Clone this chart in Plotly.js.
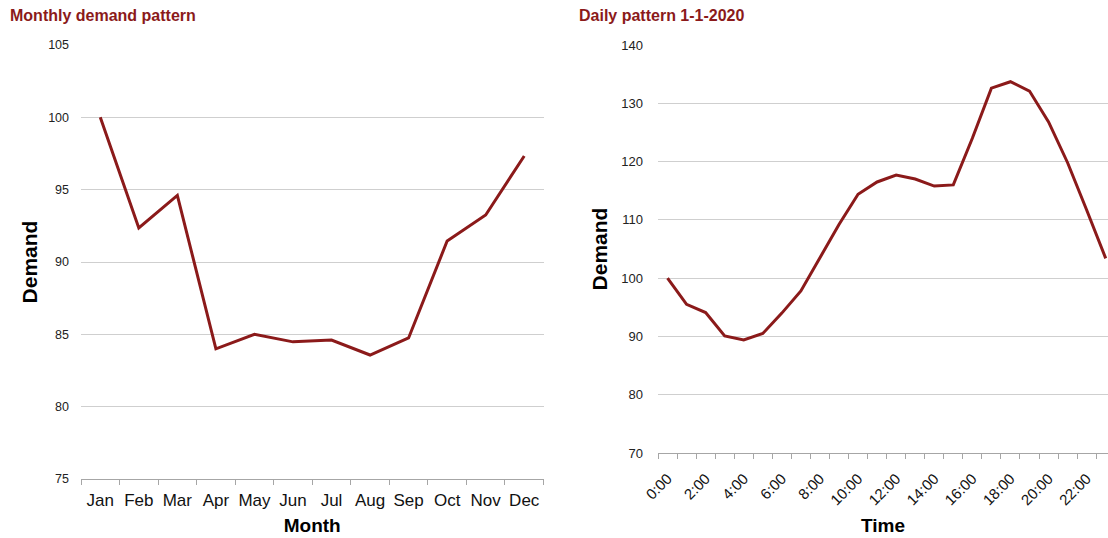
<!DOCTYPE html>
<html>
<head>
<meta charset="utf-8">
<script src="https://cdn.plot.ly/plotly-3.0.1.min.js"></script>
<style>html,body{margin:0;padding:0;overflow:hidden;background:#fff}</style>
</head>
<body>
<div id="chart" style="width:1108px;height:538px"></div>
<script>
// Monthly demand pattern
const months = ["Jan","Feb","Mar","Apr","May","Jun","Jul","Aug","Sep","Oct","Nov","Dec"];
const monthlyDemand = [100.0, 92.35, 94.6, 84.0, 85.0, 84.48, 84.6, 83.57, 84.75, 91.45, 93.25, 97.33];

// Daily pattern 1-1-2020
const hours = ["0:00","1:00","2:00","3:00","4:00","5:00","6:00","7:00","8:00","9:00","10:00","11:00",
               "12:00","13:00","14:00","15:00","16:00","17:00","18:00","19:00","20:00","21:00","22:00","23:00"];
const dailyDemand = [100.0, 95.5, 94.1, 90.1, 89.4, 90.5, 94.0, 97.8, 103.5, 109.2, 114.4, 116.5,
                     117.7, 117.0, 115.8, 116.0, 124.0, 132.6, 133.7, 132.1, 126.8, 119.8, 111.7, 103.4];
const hourTickText = hours.map((h, i) => (i % 2 === 0 ? h : ""));

const titleColor = "#8b1a1a";
const lineColor = "#8b1a1a";
const font = "Liberation Sans, Arial, sans-serif";
const W = 1108, H = 538;

const traces = [
  {x: months, y: monthlyDemand, xaxis: "x", yaxis: "y", type: "scatter", mode: "lines",
   line: {color: lineColor, width: 3}, hoverinfo: "x+y"},
  {x: hours, y: dailyDemand, xaxis: "x2", yaxis: "y2", type: "scatter", mode: "lines",
   line: {color: lineColor, width: 3}, hoverinfo: "x+y"}
];

const gridColor = "#cfcfcf";
const axisLineColor = "#a6a6a6";

const layout = {
  width: W, height: H,
  margin: {l: 0, r: 0, t: 0, b: 0},
  paper_bgcolor: "#fff", plot_bgcolor: "#fff",
  showlegend: false,
  font: {family: font, color: "#222"},
  xaxis: {
    domain: [81 / W, 543.5 / W],
    type: "category",
    range: [-0.5, 11.5],
    tickson: "boundaries",
    ticks: "outside", ticklen: 5, tickcolor: axisLineColor,
    tickangle: 0,
    ticklabelstandoff: 6,
    showline: true, linecolor: axisLineColor, linewidth: 1,
    showgrid: false,
    tickfont: {size: 17, color: "#111", family: font},
    title: {text: "<b>Month</b>", font: {size: 19, color: "#000", family: font}, standoff: 9},
    fixedrange: true
  },
  yaxis: {
    domain: [(H - 479) / H, (H - 45) / H],
    range: [75, 105], dtick: 5,
    showgrid: true, gridcolor: gridColor, gridwidth: 1,
    zeroline: false, showline: false, ticks: "",
    ticklabelstandoff: 11,
    tickfont: {size: 12.5, color: "#222", family: font},
    title: {text: "<b>Demand</b>", font: {size: 21, color: "#000", family: font}, standoff: 4},
    fixedrange: true
  },
  xaxis2: {
    domain: [658 / W, 1],
    type: "category",
    range: [-0.5, 23.12],
    tickmode: "array", tickvals: hours, ticktext: hourTickText,
    tickson: "boundaries",
    ticks: "outside", ticklen: 5, tickcolor: axisLineColor,
    tickangle: -45,
    ticklabelstandoff: 10,
    showline: true, linecolor: axisLineColor, linewidth: 1,
    showgrid: false,
    tickfont: {size: 15, color: "#111", family: font},
    title: {text: "<b>Time</b>", font: {size: 19, color: "#000", family: font}, standoff: 11},
    anchor: "y2",
    fixedrange: true
  },
  yaxis2: {
    domain: [(H - 453) / H, (H - 45) / H],
    range: [70, 140], dtick: 10,
    anchor: "x2",
    showgrid: true, gridcolor: gridColor, gridwidth: 1,
    zeroline: false, showline: false, ticks: "",
    ticklabelstandoff: 14,
    tickfont: {size: 13, color: "#222", family: font},
    title: {text: "<b>Demand</b>", font: {size: 21, color: "#000", family: font}, standoff: 7},
    fixedrange: true
  },
  annotations: [
    {text: "<b>Monthly demand pattern</b>", xref: "paper", yref: "paper",
     x: 8 / W, y: 1 - 15 / H, xanchor: "left", yanchor: "middle", showarrow: false,
     font: {size: 16, color: titleColor, family: font}},
    {text: "<b>Daily pattern 1-1-2020</b>", xref: "paper", yref: "paper",
     x: 577 / W, y: 1 - 15 / H, xanchor: "left", yanchor: "middle", showarrow: false,
     font: {size: 16, color: titleColor, family: font}}
  ]
};

Plotly.newPlot("chart", traces, layout, {displayModeBar: false, staticPlot: true});
</script>
</body>
</html>
